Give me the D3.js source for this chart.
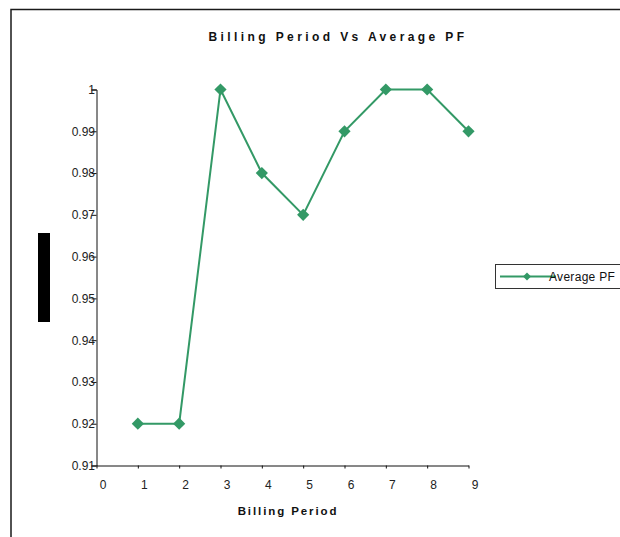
<!DOCTYPE html>
<html>
<head>
<meta charset="utf-8">
<script src="https://cdn.jsdelivr.net/npm/d3@7/dist/d3.min.js"></script>
<style>
  html, body { margin: 0; padding: 0; background: #fff; }
  svg { display: block; font-family: "Liberation Sans", Arial, sans-serif; }
</style>
</head>
<body>
<svg id="chart" width="620" height="537"></svg>
<script>
// Billing periods and their average power factor
const periods = [1, 2, 3, 4, 5, 6, 7, 8, 9];
const averagePF = [0.92, 0.92, 1.00, 0.98, 0.97, 0.99, 1.00, 1.00, 0.99];
const xTicks = [0, 1, 2, 3, 4, 5, 6, 7, 8, 9];
const yTicks = [0.91, 0.92, 0.93, 0.94, 0.95, 0.96, 0.97, 0.98, 0.99, 1];
const chartTitle = "Billing Period Vs Average PF";
const xTitle = "Billing Period";
const seriesName = "Average PF";

const green = "#339966";
const svg = d3.select("#chart");

// outer frame (top and left edges visible)
svg.append("path")
  .attr("d", "M11,537 V9.5 H620")
  .attr("fill", "none")
  .attr("stroke", "#1a1a1a")
  .attr("stroke-width", 1.5);

const x = d3.scaleLinear().domain([0, 9]).range([96.5, 468.5]);
const y = d3.scaleLinear().domain([0.91, 1]).range([465.5, 89.5]);

// title
svg.append("text")
  .attr("x", 338).attr("y", 41)
  .attr("text-anchor", "middle")
  .attr("font-size", 12).attr("font-weight", "bold")
  .attr("letter-spacing", 3.4)
  .attr("fill", "#111")
  .text(chartTitle);

// y axis
const yAxis = svg.append("g")
  .attr("transform", "translate(96.5,0)")
  .call(d3.axisLeft(y).tickValues(yTicks).tickSize(5).tickPadding(-3.5)
    .tickFormat(d => d === 1 ? "1" : d3.format(".2f")(d)));
yAxis.select(".domain").attr("stroke", "#111");
yAxis.selectAll(".tick line").attr("stroke", "#111");
yAxis.selectAll(".tick text")
  .attr("font-size", 12).attr("fill", "#222")
  .attr("font-family", "'Liberation Sans', Arial, sans-serif");

// x axis
const xAxis = svg.append("g")
  .attr("transform", "translate(0,465.5)")
  .call(d3.axisBottom(x).tickValues(xTicks).tickSize(3).tickSizeOuter(0).tickPadding(12));
xAxis.select(".domain").attr("stroke", "#111");
xAxis.selectAll(".tick line").attr("stroke", "#111");
xAxis.selectAll(".tick text")
  .attr("dx", 6)
  .attr("font-size", 12).attr("fill", "#222")
  .attr("font-family", "'Liberation Sans', Arial, sans-serif");

// x axis title
svg.append("text")
  .attr("x", 288).attr("y", 515)
  .attr("text-anchor", "middle")
  .attr("font-size", 11.5).attr("font-weight", "bold")
  .attr("letter-spacing", 1.9)
  .attr("fill", "#111")
  .text(xTitle);

// y axis title block
svg.append("rect")
  .attr("x", 38).attr("y", 233)
  .attr("width", 12).attr("height", 89)
  .attr("fill", "#000");

// series line
const pts = periods.map((p, i) => [p, averagePF[i]]);
svg.append("path")
  .datum(pts)
  .attr("fill", "none")
  .attr("stroke", green)
  .attr("stroke-width", 2)
  .attr("d", d3.line().x(d => x(d[0])).y(d => y(d[1])));

// diamond markers
const diamond = d3.symbol().type(d3.symbolDiamond2).size(95);
svg.append("g").selectAll("path")
  .data(pts)
  .join("path")
  .attr("transform", d => `translate(${x(d[0])},${y(d[1])})`)
  .attr("d", diamond)
  .attr("fill", green);

// legend
const lg = svg.append("g");
lg.append("rect")
  .attr("x", 495.5).attr("y", 264.5)
  .attr("width", 130).attr("height", 24)
  .attr("fill", "#fff").attr("stroke", "#333").attr("stroke-width", 1);
lg.append("line")
  .attr("x1", 500).attr("x2", 556).attr("y1", 276.5).attr("y2", 276.5)
  .attr("stroke", green).attr("stroke-width", 2);
lg.append("path")
  .attr("transform", "translate(527,276.5)")
  .attr("d", d3.symbol().type(d3.symbolDiamond2).size(40))
  .attr("fill", green);
lg.append("text")
  .attr("x", 549).attr("y", 281)
  .attr("font-size", 12).attr("fill", "#111")
  .attr("letter-spacing", 0.3)
  .text(seriesName);
</script>
</body>
</html>
